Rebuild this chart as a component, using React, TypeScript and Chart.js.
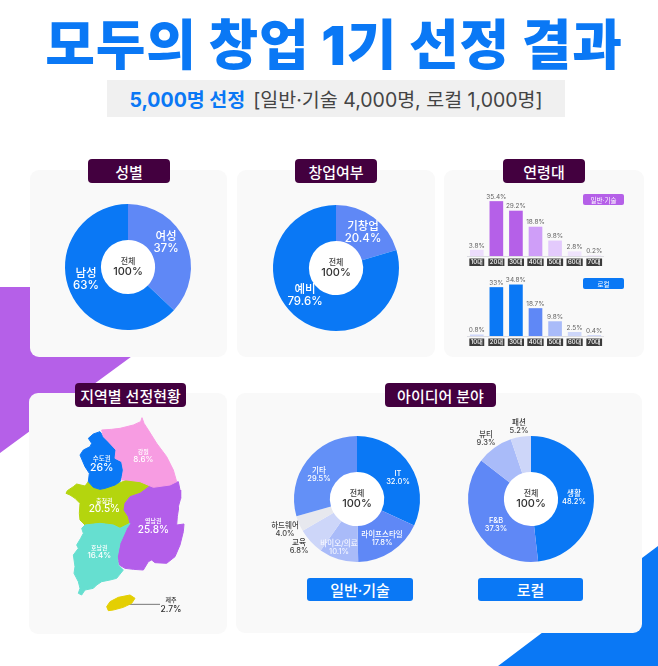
import React, { useEffect, useRef } from "react";
import { Chart, registerables } from "chart.js";

Chart.register(...registerables);

const FONT = 'Inter, "Noto Sans CJK KR", "Noto Sans", sans-serif';
const BLUE = "#0a78f5";
const MID = "#5f88f6";
const PALE = "#a9bbf9";
const PALER = "#cdd6f9";
const GREYISH = "#e7e8ee";
const PURPLE = "#b560e8";

// ---- data ----
const genderNames = ["여성", "남성"];
const genderValues = [37, 63];
const startupNames = ["기창업", "예비"];
const startupValues = [20.4, 79.6];
const techNames = ["IT", "라이프스타일", "바이오/의료", "교육", "하드웨어", "기타"];
const techValues = [32.0, 17.8, 10.1, 6.8, 4.0, 29.5];
const localNames = ["생활", "F&B", "뷰티", "패션"];
const localValues = [48.2, 37.3, 9.3, 5.2];
const ageLabels = ["10대", "20대", "30대", "40대", "50대", "60대", "70대"];
const ageTechValues = [3.8, 35.4, 29.2, 18.8, 9.8, 2.8, 0.2];
const ageLocalValues = [0.8, 33, 34.8, 18.7, 9.8, 2.5, 0.4];

// map outlines, in map units
const capitalOutline = [[240,155],[250,170],[265,185],[285,205],[288,210],[285,235],[305,245],[310,275],[300,305],[285,315],[255,325],[240,328],[220,322],[205,305],[208,280],[195,260],[180,225],[190,210],[210,200],[215,190],[205,175],[220,162]];
const gangwonOutline = [[245,150],[275,148],[300,145],[340,135],[362,125],[366,113],[372,130],[385,150],[410,190],[440,230],[460,270],[470,305],[450,315],[400,322],[360,305],[320,300],[305,300],[310,270],[305,245],[285,235],[288,210],[265,185],[250,170]];
const chungOutline = [[142,332],[160,320],[170,312],[195,318],[205,305],[220,322],[240,328],[285,315],[320,300],[335,290],[360,300],[390,318],[360,340],[330,350],[315,370],[312,390],[325,410],[330,430],[300,445],[280,435],[240,430],[195,435],[180,420],[178,400],[180,370],[165,355],[150,345],[138,340]];
const yeongOutline = [[390,318],[420,310],[450,312],[475,305],[480,330],[482,355],[475,380],[475,390],[472,410],[470,435],[492,432],[490,455],[480,495],[465,530],[440,550],[405,548],[395,540],[385,545],[370,570],[340,568],[315,565],[298,555],[292,530],[300,490],[320,445],[330,430],[325,410],[312,390],[315,370],[330,350],[360,340]];
const honamOutline = [[195,435],[185,445],[190,460],[182,475],[170,495],[175,505],[160,525],[165,560],[162,580],[175,605],[180,625],[175,640],[185,645],[195,630],[220,625],[230,615],[245,605],[270,600],[290,595],[310,570],[295,555],[292,530],[300,490],[320,445],[330,430],[300,445],[280,435],[240,430]];
const jejuOutline = [[260,680],[270,665],[295,652],[330,645],[345,655],[335,670],[310,682],[280,690],[265,692]];
const jejuLeader = [[300,673],[420,673]];
const regionNames = ["수도권", "강원", "충청권", "영남권", "호남권", "제주"];
const regionValues = ["26%", "8.6%", "20.5%", "25.8%", "16.4%", "2.7%"];

// ---- text helpers ----
type T = { t: string; x: number; y: number; s: number; c: string; w?: number };
function drawText(ctx: any, items: T[]) {
  ctx.save();
  ctx.textAlign = "center";
  ctx.textBaseline = "middle";
  for (const i of items) {
    ctx.font = `${i.w ?? 500} ${i.s}px ${FONT}`;
    ctx.fillStyle = i.c;
    ctx.fillText(i.t, i.x, i.y);
  }
  ctx.restore();
}

type LabelStyle = { dx: number; dy: number; s: number; c: string; gap: number };

function doughnutConfig(names: string[], values: number[], colors: string[], decimals: number, styles: LabelStyle[]) {
  return {
    type: "doughnut",
    data: {
      labels: names,
      datasets: [{ data: values, backgroundColor: colors, borderWidth: 0 }],
    },
    options: {
      animation: false,
      responsive: false,
      radius: 63,
      cutout: "43%",
      layout: { padding: 0, autoPadding: false },
      plugins: { legend: { display: false }, tooltip: { enabled: false } },
    },
    plugins: [
      {
        id: "hole",
        beforeDatasetsDraw(chart: any) {
          const a = chart.getDatasetMeta(0).data[0];
          const ctx = chart.ctx;
          ctx.save();
          ctx.fillStyle = "#ffffff";
          ctx.beginPath();
          ctx.arc(a.x, a.y, 28, 0, Math.PI * 2);
          ctx.fill();
          ctx.restore();
        },
        afterDatasetsDraw(chart: any) {
          const a = chart.getDatasetMeta(0).data[0];
          const items: T[] = [
            { t: "전체", x: a.x, y: a.y - 5, s: 8, c: "#444" },
            { t: "100%", x: a.x, y: a.y + 5, s: 11, c: "#333" },
          ];
          names.forEach((n, i) => {
            const st = styles[i];
            items.push({ t: n, x: a.x + st.dx, y: a.y + st.dy - st.gap, s: st.s, c: st.c });
            items.push({ t: values[i].toFixed(decimals) + "%", x: a.x + st.dx, y: a.y + st.dy + st.gap, s: st.s, c: st.c });
          });
          drawText(chart.ctx, items);
        },
      },
    ],
  };
}

function barConfig(values: number[], colors: string[], yMax: number) {
  return {
    type: "bar",
    data: {
      labels: ageLabels,
      datasets: [{ data: values, backgroundColor: colors, barThickness: 13 }],
    },
    options: {
      animation: false,
      responsive: false,
      layout: { padding: 0, autoPadding: false },
      plugins: { legend: { display: false }, tooltip: { enabled: false } },
      scales: {
        y: { display: false, min: 0, max: yMax },
        x: {
          afterFit: (s: any) => {
            s.height = 10;
          },
          grid: { display: false, drawTicks: false },
          border: { display: true, color: "#dcdce2", width: 1 },
          ticks: {
            autoSkip: false,
            maxRotation: 0,
            padding: 3,
            color: "#ffffff",
            font: { size: 6, family: FONT, weight: 500 },
            showLabelBackdrop: true,
            backdropColor: "#3c3c3c",
            backdropPadding: { x: 1.5, y: 0.5 },
          },
        },
      },
    },
    plugins: [
      {
        id: "vals",
        afterDatasetsDraw(chart: any) {
          const els = chart.getDatasetMeta(0).data;
          drawText(
            chart.ctx,
            els.map((e: any, i: number) => ({ t: values[i] + "%", x: e.x, y: e.y - 4.5, s: 6.5, c: "#666", w: 400 }))
          );
        },
      },
    ],
  };
}

function toPoints(o: number[][]) {
  return o.map(([x, y]) => ({ x, y }));
}

function region(outline: number[][], color: string) {
  return {
    data: toPoints(outline.concat([outline[0]])),
    showLine: true,
    fill: "shape",
    backgroundColor: color,
    borderColor: color,
    borderWidth: 1,
    pointRadius: 0,
    tension: 0,
  };
}

function mapConfig() {
  return {
    type: "scatter",
    data: {
      datasets: [
        region(gangwonOutline, "#f79ce2"),
        region(capitalOutline, BLUE),
        region(honamOutline, "#66dfd0"),
        region(yeongOutline, "#b35eea"),
        region(chungOutline, "#b4d50e"),
        region(jejuOutline, "#e4cf02"),
        {
          data: toPoints(jejuLeader),
          showLine: true,
          fill: false,
          borderColor: "#777",
          borderWidth: 1,
          pointRadius: [1.5, 0],
          pointBackgroundColor: "#444",
        },
      ],
    },
    options: {
      animation: false,
      responsive: false,
      layout: { padding: 0, autoPadding: false },
      plugins: { legend: { display: false }, tooltip: { enabled: false } },
      scales: {
        x: { display: false, min: 0, max: 645 },
        y: { display: false, min: 0, max: 780, reverse: true },
      },
    },
    plugins: [
      {
        id: "regionText",
        afterDatasetsDraw(chart: any) {
          const sx = chart.scales.x;
          const sy = chart.scales.y;
          const place = [
            [245, 238, 263, 6.5, 10.5, "#fff"],
            [370, 218, 238, 6, 8, "#fff"],
            [253, 365, 388, 6, 10, "#fff"],
            [400, 425, 450, 6, 10, "#fff"],
            [238, 505, 527, 6, 8, "#fff"],
            [453, 662, 687, 6, 8.5, "#333"],
          ] as any[];
          const items: T[] = [];
          regionNames.forEach((n, i) => {
            const [px, py1, py2, s1, s2, c] = place[i];
            items.push({ t: n, x: sx.getPixelForValue(px), y: sy.getPixelForValue(py1), s: s1, c });
            items.push({ t: regionValues[i], x: sx.getPixelForValue(px), y: sy.getPixelForValue(py2), s: s2, c });
          });
          drawText(chart.ctx, items);
        },
      },
    ],
  };
}

function ChartCanvas({ make, left, top, width, height }: any) {
  const ref = useRef<HTMLCanvasElement | null>(null);
  useEffect(() => {
    const c = new Chart(ref.current as any, make());
    return () => c.destroy();
  }, []);
  return <canvas ref={ref} width={width} height={height} style={{ position: "absolute", left, top, width, height }} />;
}

const Box = ({ x, y, w, h, bg, r, children, style }: any) => (
  <div
    style={{
      position: "absolute",
      left: x,
      top: y,
      width: w,
      height: h,
      background: bg,
      borderRadius: r,
      display: "flex",
      alignItems: "center",
      justifyContent: "center",
      whiteSpace: "nowrap",
      fontFamily: FONT,
      ...style,
    }}
  >
    {children}
  </div>
);

const Pill = ({ x, y, w, text }: any) => (
  <Box x={x} y={y} w={w} h={24} bg="#43003f" r={4} style={{ color: "#fff", fontSize: 15, fontWeight: 500 }}>
    {text}
  </Box>
);

const dark = "#444";
const white = "#ffffff";

export default function App() {
  return (
    <div style={{ position: "absolute", left: 0, top: 0, width: 658, height: 666, overflow: "hidden", background: "#fff" }}>
      <svg width={658} height={666} style={{ position: "absolute", left: 0, top: 0 }}>
        <polygon points="0,287 40,287 40,340 154,340 0,453" fill={PURPLE} />
        <polygon points="658,546 630,567 630,623 555,623 498,666 658,666" fill={BLUE} />
      </svg>

      <Box x={5} y={8} w={658} h={66} style={{ color: BLUE, fontSize: 54, fontWeight: 900, letterSpacing: 0.9 }}>
        모두의 창업 1기 선정 결과
      </Box>
      <Box x={107} y={80} w={458} h={37} bg="#f0f0f0" style={{ fontSize: 19.5 }}>
        <span style={{ color: BLUE, fontWeight: 700 }}>5,000명 선정</span>
        <span style={{ color: "#444", marginLeft: 8 }}>[일반·기술 4,000명, 로컬 1,000명]</span>
      </Box>

      <Box x={30} y={170} w={197} h={187} bg="#f9f9f9" r={9} />
      <Box x={237} y={170} w={198} h={187} bg="#f9f9f9" r={9} />
      <Box x={444} y={170} w={200} h={187} bg="#f9f9f9" r={9} />
      <Box x={29} y={393} w={198} h={241} bg="#f9f9f9" r={9} />
      <Box x={236} y={393} w={406} h={240} bg="#f9f9f9" r={9} />

      <Pill x={88} y={159} w={82} text="성별" />
      <Pill x={295} y={159} w={82} text="창업여부" />
      <Pill x={503} y={159} w={82} text="연령대" />
      <Pill x={75} y={383} w={111} text="지역별 선정현황" />
      <Pill x={385} y={383} w={111} text="아이디어 분야" />

      <ChartCanvas
        left={33} top={172} width={190} height={190}
        make={() =>
          doughnutConfig(genderNames, genderValues, [MID, BLUE], 0, [
            { dx: 38, dy: -24, s: 11.5, c: white, gap: 6 },
            { dx: -42, dy: 13, s: 11.5, c: white, gap: 6 },
          ])
        }
      />
      <ChartCanvas
        left={241} top={173} width={190} height={190}
        make={() =>
          doughnutConfig(startupNames, startupValues, [MID, BLUE], 1, [
            { dx: 27, dy: -35, s: 11.5, c: white, gap: 6 },
            { dx: -31, dy: 28, s: 11.5, c: white, gap: 6 },
          ])
        }
      />
      <ChartCanvas
        left={262} top={404} width={190} height={190}
        make={() =>
          doughnutConfig(techNames, techValues, [BLUE, MID, PALE, PALER, GREYISH, "#6390f7"], 1, [
            { dx: 41, dy: -21, s: 7.5, c: white, gap: 3.8 },
            { dx: 25, dy: 40, s: 7.5, c: white, gap: 3.8 },
            { dx: -18, dy: 49, s: 7.5, c: "#f2f4ff", gap: 3.8 },
            { dx: -58, dy: 48, s: 7.5, c: dark, gap: 3.8 },
            { dx: -72, dy: 31, s: 7.5, c: dark, gap: 3.8 },
            { dx: -38, dy: -24, s: 7.5, c: white, gap: 3.8 },
          ])
        }
      />
      <ChartCanvas
        left={436} top={404} width={190} height={190}
        make={() =>
          doughnutConfig(localNames, localValues, [BLUE, MID, PALE, PALER], 1, [
            { dx: 43, dy: -1, s: 7.5, c: white, gap: 3.8 },
            { dx: -35, dy: 26, s: 7.5, c: white, gap: 3.8 },
            { dx: -45, dy: -60, s: 7.5, c: dark, gap: 3.8 },
            { dx: -12, dy: -72, s: 7.5, c: dark, gap: 3.8 },
          ])
        }
      />

      <ChartCanvas
        left={467} top={183} width={137} height={83}
        make={() => barConfig(ageTechValues, ["#ecdcfc", PURPLE, PURPLE, "#cf9ef8", "#e3cafc", "#efe3fc", "#efe3fc"], 47.4)}
      />
      <ChartCanvas
        left={467} top={263} width={137} height={83}
        make={() => barConfig(ageLocalValues, [PALER, BLUE, BLUE, MID, PALE, PALER, PALER], 49.66)}
      />
      <Box x={583} y={194} w={41} h={11} bg={PURPLE} r={2} style={{ color: "#fff", fontSize: 6.5 }}>일반·기술</Box>
      <Box x={583} y={278} w={41} h={11} bg={BLUE} r={2} style={{ color: "#fff", fontSize: 6.5 }}>로컬</Box>

      <ChartCanvas left={20} top={380} width={215} height={260} make={mapConfig} />

      <Box x={307} y={578} w={106} h={23} bg={BLUE} r={3} style={{ color: "#fff", fontSize: 15, fontWeight: 500 }}>일반·기술</Box>
      <Box x={478} y={578} w={105} h={23} bg={BLUE} r={3} style={{ color: "#fff", fontSize: 15, fontWeight: 500 }}>로컬</Box>
    </div>
  );
}
